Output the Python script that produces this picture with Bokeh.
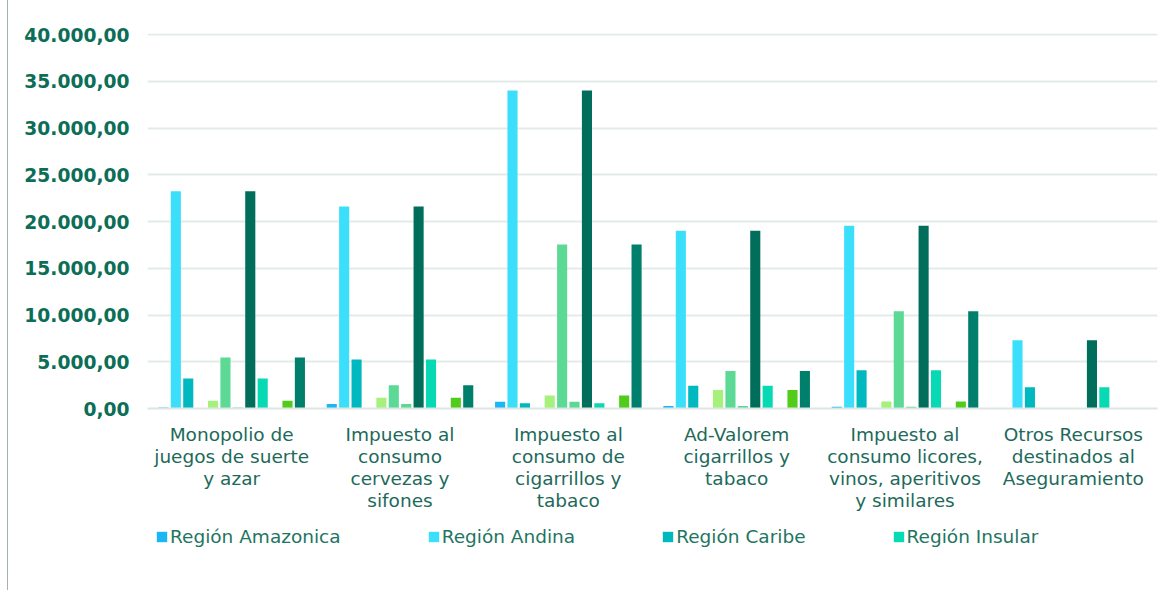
from bokeh.plotting import figure
from bokeh.models import ColumnDataSource, FactorRange, FixedTicker, Legend, LegendItem, Spacer
from bokeh.layouts import row, column
from bokeh.transform import dodge
from bokeh.embed import file_html
from bokeh.resources import INLINE

categories = [
    "Monopolio de\njuegos de suerte\ny azar",
    "Impuesto al\nconsumo\ncervezas y\nsifones",
    "Impuesto al\nconsumo de\ncigarrillos y\ntabaco",
    "Ad-Valorem\ncigarrillos y\ntabaco",
    "Impuesto al\nconsumo licores,\nvinos, aperitivos\ny similares",
    "Otros Recursos\ndestinados al\nAseguramiento",
]

series_names = [
    "Región Amazonica", "Región Andina", "Región Caribe", "Región Insular",
    "Región Orinoquía", "Región Pacífico",
    "Región Amazonica (2)", "Región Andina (2)", "Región Caribe (2)", "Región Insular (2)",
    "Región Orinoquía (2)", "Región Pacífico (2)",
]

amazonica = [120, 480, 720, 260, 200, 0]
andina = [23250, 21600, 34000, 19000, 19550, 7300]
caribe = [3200, 5250, 560, 2420, 4100, 2280]
insular = [40, 0, 0, 0, 0, 0]
orinoquia = [820, 1150, 1380, 1980, 760, 0]
pacifico = [5450, 2480, 17550, 4020, 10400, 0]
amazonica_2 = [120, 480, 720, 260, 200, 0]
andina_2 = [23250, 21600, 34000, 19000, 19550, 7300]
caribe_2 = [3200, 5250, 560, 2420, 4100, 2280]
insular_2 = [40, 0, 0, 0, 0, 0]
orinoquia_2 = [820, 1150, 1380, 1980, 760, 0]
pacifico_2 = [5450, 2480, 17550, 4020, 10400, 0]

series_values = [amazonica, andina, caribe, insular, orinoquia, pacifico,
                 amazonica_2, andina_2, caribe_2, insular_2, orinoquia_2, pacifico_2]

colors = ["#1BB6F4", "#3CDFFB", "#00B8C0", "#08D9B6", "#A6F07C", "#5DD996",
          "#5BD993", "#006E5A", "#07D9B5", "#9FE3C6", "#52CC1A", "#007F6C"]

y_ticks = [0, 5000, 10000, 15000, 20000, 25000, 30000, 35000, 40000]
y_tick_labels = ["0,00", "5.000,00", "10.000,00", "15.000,00", "20.000,00",
                 "25.000,00", "30.000,00", "35.000,00", "40.000,00"]

data = {"cat": categories}
for i, vals in enumerate(series_values):
    data[f"s{i}"] = vals
source = ColumnDataSource(data)

border = {"border-left": "1px solid #A5B2AF"}

p = figure(
    x_range=FactorRange(*categories), y_range=(0, 40110),
    width=1160, height=520,
    min_border_left=139, min_border_right=11, min_border_top=33, min_border_bottom=112,
    output_backend="svg", toolbar_location=None,
)

n = len(series_values)
step = 0.0737
bar_w = 0.06
for i in range(n):
    off = (i - (n - 1) / 2) * step
    p.vbar(x=dodge("cat", off, range=p.x_range), top=f"s{i}", width=bar_w,
           source=source, fill_color=colors[i], line_color=None)

p.yaxis.ticker = FixedTicker(ticks=y_ticks)
p.yaxis.major_label_overrides = {t: l for t, l in zip(y_ticks, y_tick_labels)}
p.yaxis.major_label_text_font = "DejaVu Sans"
p.yaxis.major_label_text_font_style = "bold"
p.yaxis.major_label_text_font_size = "18.7px"
p.yaxis.major_label_text_color = "#0D6E57"
p.yaxis.axis_line_color = None
p.yaxis.major_tick_line_color = None
p.yaxis.minor_tick_line_color = None
p.yaxis.major_label_standoff = 12

p.xaxis.major_label_text_font = "DejaVu Sans"
p.xaxis.major_label_text_font_size = "18.5px"
p.xaxis.major_label_text_color = "#1D6A5A"
p.xaxis.major_label_text_line_height = 1.057
p.xaxis.axis_line_color = "#DDE6E3"
p.xaxis.axis_line_width = 2
p.xaxis.major_tick_line_color = None
p.xaxis.minor_tick_line_color = None
p.xaxis.major_label_standoff = 9

p.xgrid.grid_line_color = None
p.ygrid.grid_line_color = "#E3EBE9"
p.ygrid.grid_line_width = 2
p.outline_line_color = None
p.background_fill_color = "white"
p.border_fill_color = "white"
p.styles = border

# legend strip (the chart shows only the first four entries)
q = figure(width=1160, height=70, x_range=(0, 1), y_range=(0, 1),
           x_axis_type=None, y_axis_type=None, min_border=0,
           output_backend="svg", toolbar_location=None)
q.xgrid.grid_line_color = None
q.ygrid.grid_line_color = None
q.outline_line_color = None
q.styles = border
legend_renderers = []
for i in range(4):
    r = q.vbar(x=[-5], top=[0], width=0.1, fill_color=colors[i], line_color=None)
    legend_renderers.append(r)

legend = Legend(
    items=[LegendItem(label=series_names[i], renderers=[legend_renderers[i]]) for i in range(4)],
    orientation="horizontal", location=(8, 43),
    glyph_width=13, glyph_height=13, label_standoff=2, spacing=86,
    padding=0, margin=0, border_line_color=None, background_fill_alpha=0,
    label_text_font="DejaVu Sans", label_text_font_size="18.5px",
    label_text_color="#1E7562",
)
q.add_layout(legend, "center")

layout = row(Spacer(width=7), column(p, q))

open("out.html", "w").write(file_html(layout, INLINE))
